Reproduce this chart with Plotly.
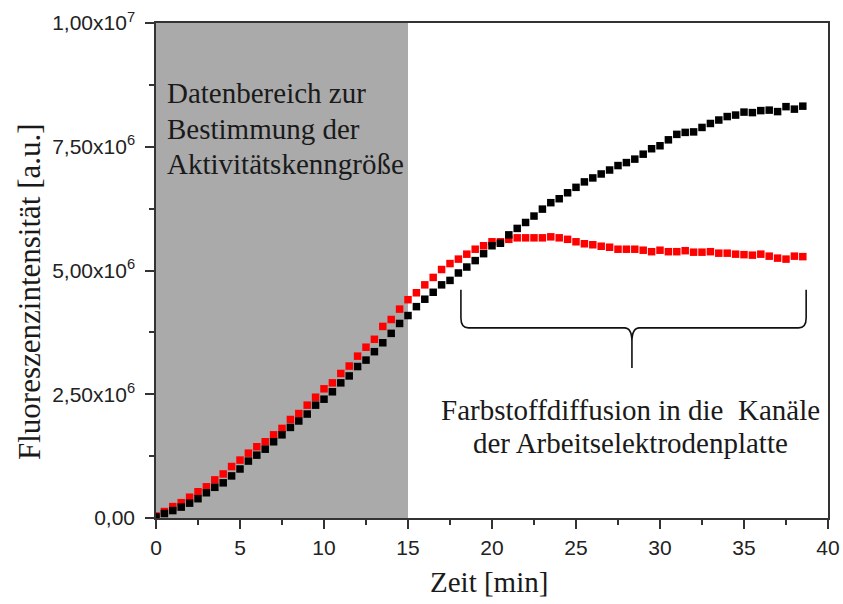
import plotly.graph_objects as go

# ---------------- data ----------------
zeit_min = [0, 0.5, 1, 1.5, 2, 2.5, 3, 3.5, 4, 4.5, 5, 5.5, 6, 6.5, 7, 7.5, 8, 8.5, 9, 9.5,
            10, 10.5, 11, 11.5, 12, 12.5, 13, 13.5, 14, 14.5, 15, 15.5, 16, 16.5, 17, 17.5,
            18, 18.5, 19, 19.5, 20, 20.5, 21, 21.5, 22, 22.5, 23, 23.5, 24, 24.5, 25, 25.5,
            26, 26.5, 27, 27.5, 28, 28.5, 29, 29.5, 30, 30.5, 31, 31.5, 32, 32.5, 33, 33.5,
            34, 34.5, 35, 35.5, 36, 36.5, 37, 37.5, 38, 38.5]

# values in units of 1e6 a.u.
schwarz_e6 = [0.02, 0.09, 0.15, 0.22, 0.30, 0.39, 0.51, 0.62, 0.71, 0.85, 0.99, 1.15, 1.27, 1.39,
              1.54, 1.68, 1.83, 1.96, 2.10, 2.28, 2.40, 2.55, 2.73, 2.87, 3.06, 3.19, 3.36, 3.54,
              3.73, 3.93, 4.09, 4.27, 4.42, 4.56, 4.71, 4.80, 4.95, 5.07, 5.20, 5.34, 5.50, 5.55,
              5.72, 5.85, 5.97, 6.10, 6.24, 6.37, 6.45, 6.57, 6.68, 6.79, 6.87, 6.95, 7.03, 7.12,
              7.18, 7.25, 7.35, 7.46, 7.52, 7.64, 7.75, 7.79, 7.80, 7.89, 7.97, 8.04, 8.11, 8.14,
              8.20, 8.19, 8.23, 8.24, 8.21, 8.31, 8.26, 8.32]

rot_e6 = [0.04, 0.13, 0.23, 0.31, 0.42, 0.53, 0.63, 0.77, 0.89, 1.04, 1.17, 1.31, 1.44, 1.54,
          1.68, 1.81, 1.99, 2.11, 2.28, 2.44, 2.61, 2.73, 2.92, 3.07, 3.27, 3.45, 3.61, 3.87,
          4.01, 4.22, 4.41, 4.55, 4.71, 4.86, 5.02, 5.14, 5.23, 5.33, 5.43, 5.50, 5.58, 5.58,
          5.63, 5.66, 5.66, 5.66, 5.66, 5.68, 5.66, 5.63, 5.58, 5.54, 5.52, 5.49, 5.47, 5.43,
          5.43, 5.43, 5.41, 5.38, 5.41, 5.38, 5.38, 5.40, 5.37, 5.37, 5.38, 5.35, 5.35, 5.33,
          5.32, 5.31, 5.33, 5.29, 5.25, 5.23, 5.29, 5.28]

y_tickvals = [0, 2.5e6, 5.0e6, 7.5e6, 1.0e7]
y_ticktext = ["0,00", "2,50x10<sup>6</sup>", "5,00x10<sup>6</sup>",
              "7,50x10<sup>6</sup>", "1,00x10<sup>7</sup>"]
x_tickvals = [0, 5, 10, 15, 20, 25, 30, 35, 40]

datenbereich = (0, 15)
text_links = ["Datenbereich zur", "Bestimmung der", "Aktivitätskenngröße"]
text_rechts = ["Farbstoffdiffusion in die  Kanäle", "der Arbeitselektrodenplatte"]

schwarz = [v * 1e6 for v in schwarz_e6]
rot = [v * 1e6 for v in rot_e6]

# ---------------- figure ----------------
W, H = 843, 604
L, R, T, B = 156, 15, 23, 86
pw, ph = W - L - R, H - T - B

def px2paper(px, py):
    return (px - L) / pw, (H - B - py) / ph

fig = go.Figure()
fig.add_trace(go.Scatter(x=zeit_min, y=rot, mode="markers",
                         marker=dict(symbol="square", size=7.5, color="#ff0000", line=dict(width=0)),
                         showlegend=False))
fig.add_trace(go.Scatter(x=zeit_min, y=schwarz, mode="markers",
                         marker=dict(symbol="square", size=7.5, color="#000000", line=dict(width=0)),
                         showlegend=False))

# shaded data range
fig.add_shape(type="rect", xref="x", yref="paper", x0=datenbereich[0], x1=datenbereich[1],
              y0=0, y1=1, fillcolor="#aaaaaa", line=dict(width=0), layer="below")

# curly brace (annotation)
bx0, bx1, bxc = 18.15, 38.7, 28.33
by_top, by_mid, by_tip = 4.61e6, 3.84e6, 3.03e6
r_x, r_y = 0.45, 0.2e6
path = (f"M {bx0},{by_top} L {bx0},{by_mid + r_y} Q {bx0},{by_mid} {bx0 + r_x},{by_mid} "
        f"L {bxc - r_x},{by_mid} Q {bxc},{by_mid} {bxc},{by_mid - 1.4 * r_y} L {bxc},{by_tip} "
        f"M {bxc},{by_mid - 1.4 * r_y} Q {bxc},{by_mid} {bxc + r_x},{by_mid} "
        f"L {bx1 - r_x},{by_mid} Q {bx1},{by_mid} {bx1},{by_mid + r_y} L {bx1},{by_top}")
fig.add_shape(type="path", path=path, xref="x", yref="y", line=dict(color="#111111", width=1.6))

serif = "Liberation Serif, Times New Roman, serif"
for i, line in enumerate(text_links):
    xp, yp = px2paper(165, 93 + 35.5 * i)
    fig.add_annotation(text=line, xref="paper", yref="paper", x=xp, y=yp, xanchor="left",
                       yanchor="middle", showarrow=False,
                       font=dict(family=serif, size=29, color="#1a1a1a"))
for i, line in enumerate(text_rechts):
    xp, yp = px2paper(630, 410 + 33 * i)
    fig.add_annotation(text=line, xref="paper", yref="paper", x=xp, y=yp, xanchor="center",
                       yanchor="middle", showarrow=False,
                       font=dict(family=serif, size=29, color="#1a1a1a"))

# axis titles
xp, yp = px2paper(489, 582)
fig.add_annotation(text="Zeit [min]", xref="paper", yref="paper", x=xp, y=yp, xanchor="center",
                   yanchor="middle", showarrow=False, font=dict(family=serif, size=29, color="#1a1a1a"))
xp, yp = px2paper(29, 292)
fig.add_annotation(text="Fluoreszenzintensität [a.u.]", xref="paper", yref="paper", x=xp, y=yp,
                   xanchor="center", yanchor="middle", textangle=-90, showarrow=False,
                   font=dict(family=serif, size=31, color="#1a1a1a"))

axis_common = dict(showline=True, linecolor="#333333", linewidth=1.5, mirror=True,
                   ticks="outside", tickcolor="#333333", tickwidth=1.5, ticklen=9,
                   showgrid=False, zeroline=False, automargin=False,
                   tickfont=dict(family="Liberation Sans, Arial, sans-serif", size=21, color="#222222"))

fig.update_xaxes(range=[0, 40], tickvals=x_tickvals, ticktext=[str(v) for v in x_tickvals],
                 ticklabelstandoff=1,
                 minor=dict(dtick=2.5, tick0=0, ticks="outside", ticklen=5, tickcolor="#333333",
                            tickwidth=1.5, showgrid=False),
                 **axis_common)
fig.update_yaxes(range=[0, 1.0e7], tickvals=y_tickvals, ticktext=y_ticktext,
                 ticklabelstandoff=6,
                 minor=dict(dtick=1.25e6, tick0=0, ticks="outside", ticklen=5, tickcolor="#333333",
                            tickwidth=1.5, showgrid=False),
                 **axis_common)

fig.update_layout(width=W, height=H, margin=dict(l=L, r=R, t=T, b=B),
                  plot_bgcolor="white", paper_bgcolor="white", showlegend=False)

fig.write_html("out.html", config={"displayModeBar": False},
               post_script="document.body.style.margin='0';document.body.style.overflow='hidden';")
